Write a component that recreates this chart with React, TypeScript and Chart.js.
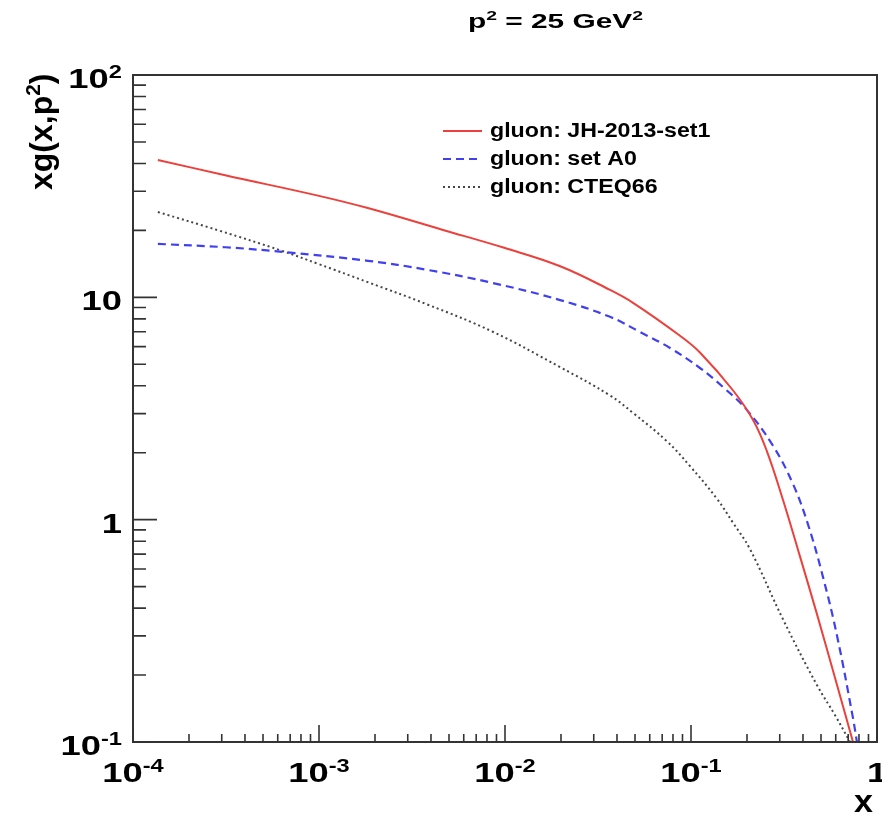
import { useEffect, useRef } from 'react';
import { Chart, registerables } from 'chart.js';

Chart.register(...registerables);

// ---------- data ----------
const xJH = [1.36e-4, 3.13e-4, 1.0e-3, 1.83e-3, 4.64e-3, 9.9e-3, 0.0198, 0.0367, 0.0488, 0.0873, 0.1117, 0.168, 0.216, 0.256, 0.313, 0.386, 0.476, 0.594, 0.743];
const yJH = [41.5, 35.4, 28.6, 25.2, 20.1, 16.7, 13.8, 10.8, 9.45, 6.72, 5.65, 3.82, 2.8, 2.03, 1.22, 0.68, 0.375, 0.195, 0.1];

const xA0 = [1.36e-4, 3.13e-4, 6.4e-4, 1.83e-3, 3.81e-3, 8.6e-3, 0.0198, 0.0367, 0.0532, 0.0771, 0.1117, 0.1486, 0.2, 0.276, 0.353, 0.426, 0.513, 0.61, 0.743, 0.78];
const yA0 = [17.4, 16.8, 16.0, 14.6, 13.3, 11.6, 9.72, 8.17, 6.98, 5.92, 4.81, 3.95, 3.11, 2.15, 1.45, 0.95, 0.55, 0.3, 0.128, 0.1];

const xCT = [1.36e-4, 2.94e-4, 6.17e-4, 1.0e-3, 1.83e-3, 3.81e-3, 8.6e-3, 0.0198, 0.0367, 0.0488, 0.0743, 0.0988, 0.138, 0.168, 0.207, 0.313, 0.476, 0.595, 0.716];
const yCT = [24.2, 19.9, 16.3, 14.1, 11.7, 9.3, 7.0, 4.85, 3.62, 3.02, 2.25, 1.74, 1.24, 0.97, 0.74, 0.355, 0.18, 0.132, 0.1];

const seriesNames = ['gluon: JH-2013-set1', 'gluon: set A0', 'gluon: CTEQ66'];

const xDecades = [1e-4, 1e-3, 1e-2, 1e-1, 1];
const yDecades = [0.1, 1, 10, 100];
const xTickExp = ['-4', '-3', '-2', '-1', ''];
const yTickExp = ['-1', '', '', '2'];

const titleText = [{ t: 'p' }, { t: '2', sup: true }, { t: ' = 25 GeV' }, { t: '2', sup: true }];
const yTitleText = [{ t: 'xg(x,p' }, { t: '2', sup: true }, { t: ')' }];
const xTitleText = [{ t: 'x' }];

// ---------- drawing helpers ----------
const FONT = '"Liberation Sans", Arial, Helvetica, sans-serif';
type Seg = { t: string; sup?: boolean };

function drawRich(
  ctx: CanvasRenderingContext2D,
  segs: Seg[],
  x: number,
  y: number,
  size: number,
  align: 'left' | 'center' | 'right',
  sx: number,
  fit?: number
) {
  const fontOf = (s: Seg) => `bold ${s.sup ? size * 0.65 : size}px ${FONT}`;
  const nat = segs.map((s) => {
    ctx.font = fontOf(s);
    return ctx.measureText(s.t).width;
  });
  const natW = nat.reduce((a, b) => a + b, 0);
  const k = fit ? fit / natW : sx;
  const W = natW * k;
  let cx = align === 'right' ? x - W : align === 'center' ? x - W / 2 : x;
  segs.forEach((s, i) => {
    ctx.save();
    ctx.font = fontOf(s);
    ctx.textAlign = 'left';
    ctx.textBaseline = 'alphabetic';
    ctx.fillStyle = '#000';
    ctx.translate(cx, y - (s.sup ? size * 0.37 : 0));
    ctx.scale(k, 1);
    ctx.fillText(s.t, 0, 0);
    ctx.restore();
    cx += nat[i] * k;
  });
}

const rootFramePlugin = {
  id: 'rootFrame',
  afterDraw(chart: any) {
    const ctx: CanvasRenderingContext2D = chart.ctx;
    const xs = chart.scales.x;
    const ys = chart.scales.y;
    const { left, right, top, bottom } = chart.chartArea;
    ctx.save();
    ctx.strokeStyle = '#333';
    ctx.lineWidth = 2;
    ctx.strokeRect(left, top, right - left, bottom - top);

    ctx.lineWidth = 1.6;
    ctx.beginPath();
    // x ticks (inside, from bottom)
    xDecades.forEach((d) => {
      const px = xs.getPixelForValue(d);
      ctx.moveTo(px, bottom);
      ctx.lineTo(px, bottom - 17);
      for (let m = 2; m <= 9; m++) {
        const v = d * m;
        if (v >= 1) break;
        const p = xs.getPixelForValue(v);
        ctx.moveTo(p, bottom);
        ctx.lineTo(p, bottom - 8);
      }
    });
    // y ticks (inside, from left)
    yDecades.forEach((d) => {
      const py = ys.getPixelForValue(d);
      ctx.moveTo(left, py);
      ctx.lineTo(left + 24, py);
      for (let m = 2; m <= 9; m++) {
        const v = d * m;
        if (v >= 100) break;
        const p = ys.getPixelForValue(v);
        ctx.moveTo(left, p);
        ctx.lineTo(left + 13, p);
      }
    });
    ctx.stroke();
    ctx.restore();

    // tick labels
    xDecades.forEach((d, i) => {
      const px = xs.getPixelForValue(d);
      const segs: Seg[] = xTickExp[i] === '' ? [{ t: '1' }] : [{ t: '10' }, { t: xTickExp[i], sup: true }];
      drawRich(ctx, segs, px, bottom + 40, 28, 'center', 1.3);
    });
    yDecades.forEach((d, i) => {
      const py = ys.getPixelForValue(d);
      const segs: Seg[] = yTickExp[i] === '' ? [{ t: d === 1 ? '1' : '10' }] : [{ t: '10' }, { t: yTickExp[i], sup: true }];
      drawRich(ctx, segs, left - 11, py + 13, 28, 'right', 1.3);
    });

    // title
    drawRich(ctx, titleText, 555.5, 28, 21, 'center', 1.3, 175);
    // x axis title
    drawRich(ctx, xTitleText, right - 4, 812, 31, 'right', 1.1);
    // y axis title (rotated)
    ctx.save();
    ctx.translate(52, 190);
    ctx.rotate(-Math.PI / 2);
    drawRich(ctx, yTitleText, 0, 0, 32, 'left', 1.0);
    ctx.restore();

    // legend
    const rows = [137, 165, 193];
    chart.data.datasets.forEach((ds: any, i: number) => {
      const yb = rows[i];
      ctx.save();
      ctx.strokeStyle = ds.borderColor;
      ctx.lineWidth = ds.borderWidth;
      ctx.setLineDash(ds.borderDash || []);
      ctx.beginPath();
      ctx.moveTo(443, yb - 6);
      ctx.lineTo(482, yb - 6);
      ctx.stroke();
      ctx.restore();
      drawRich(ctx, [{ t: ds.label }], 490, yb, 20, 'left', 1.16);
    });
  },
};

const toPts = (xs: number[], ys: number[]) => xs.map((x, i) => ({ x, y: ys[i] }));

export default function App() {
  const ref = useRef<HTMLCanvasElement | null>(null);
  useEffect(() => {
    if (!ref.current) return;
    const chart = new Chart(ref.current, {
      type: 'line',
      data: {
        datasets: [
          {
            label: seriesNames[0],
            data: toPts(xJH, yJH),
            borderColor: 'rgb(236,64,60)',
            borderWidth: 2,
            pointRadius: 0,
            tension: 0.4,
          },
          {
            label: seriesNames[1],
            data: toPts(xA0, yA0),
            borderColor: 'rgb(64,64,240)',
            borderWidth: 2.2,
            borderDash: [8, 5],
            pointRadius: 0,
            tension: 0.4,
          },
          {
            label: seriesNames[2],
            data: toPts(xCT, yCT),
            borderColor: 'rgb(70,70,70)',
            borderWidth: 2,
            borderDash: [2, 3],
            pointRadius: 0,
            tension: 0.4,
          },
        ],
      } as any,
      options: {
        animation: false,
        responsive: true,
        maintainAspectRatio: false,
        layout: { padding: { left: 133, top: 75, right: 5, bottom: 72 } },
        scales: {
          x: { type: 'logarithmic', min: 1e-4, max: 1, display: false },
          y: { type: 'logarithmic', min: 0.1, max: 100, display: false },
        },
        plugins: { legend: { display: false }, tooltip: { enabled: false }, title: { display: false } },
        events: [],
      } as any,
      plugins: [rootFramePlugin],
    });
    return () => chart.destroy();
  }, []);
  return (
    <div style={{ position: 'absolute', left: 0, top: 0, width: 882, height: 814, background: '#fff' }}>
      <canvas ref={ref} />
    </div>
  );
}
